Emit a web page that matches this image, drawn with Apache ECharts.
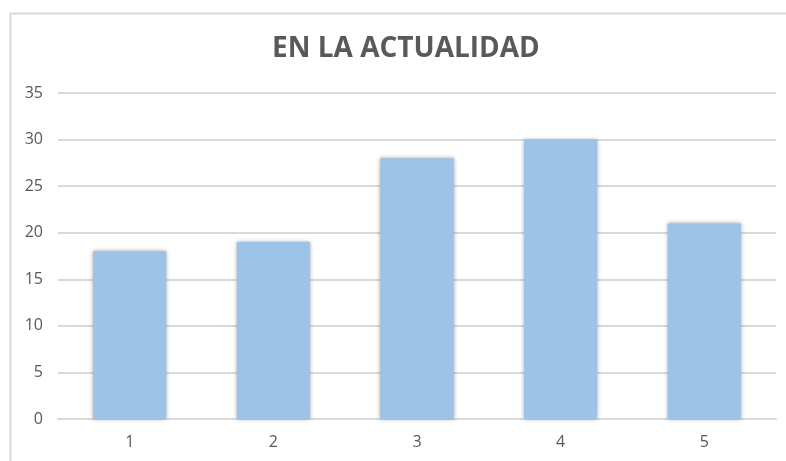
<!DOCTYPE html>
<html><head><meta charset="utf-8">
<script src="https://cdn.jsdelivr.net/npm/echarts@6/dist/echarts.min.js"></script>
<style>html,body{margin:0;padding:0;background:#fff}#c{width:786px;height:461px}</style>
</head><body><div id="c"></div>
<script>
const categories = ['1','2','3','4','5'];
const values = [18, 19, 28, 30, 21];
const titleText = 'EN LA ACTUALIDAD';
const chart = echarts.init(document.getElementById('c'), null, {renderer:'canvas'});
chart.setOption({
  animation:false,
  backgroundColor:'#fff',
  graphic:[{type:'rect',left:8,top:11,shape:{width:820,height:500},style:{fill:'none',stroke:'#d9d9d9',lineWidth:2},z:-1}],
  title:{text:titleText,left:267,top:30,itemGap:0,textStyle:{fontFamily:'Open Sans',fontWeight:'bold',fontSize:28,color:'#595959'}},
  grid:{left:58,right:10,top:93,bottom:42,containLabel:false},
  xAxis:{type:'category',data:categories,axisLine:{lineStyle:{color:'#d9d9d9',width:2}},axisTick:{show:false},
    axisLabel:{color:'#595959',fontSize:16,fontFamily:'Open Sans',margin:15}},
  yAxis:{type:'value',min:0,max:35,interval:5,axisLine:{show:false},axisTick:{show:false},
    splitLine:{lineStyle:{color:'#d9d9d9',width:2}},
    axisLabel:{color:'#595959',fontSize:16,fontFamily:'Open Sans',margin:15}},
  series:[{type:'bar',data:values,barWidth:'51%',
    itemStyle:{color:'#9dc3e6',shadowBlur:4,shadowColor:'rgba(0,0,0,0.35)'}}]
});
</script></body></html>
